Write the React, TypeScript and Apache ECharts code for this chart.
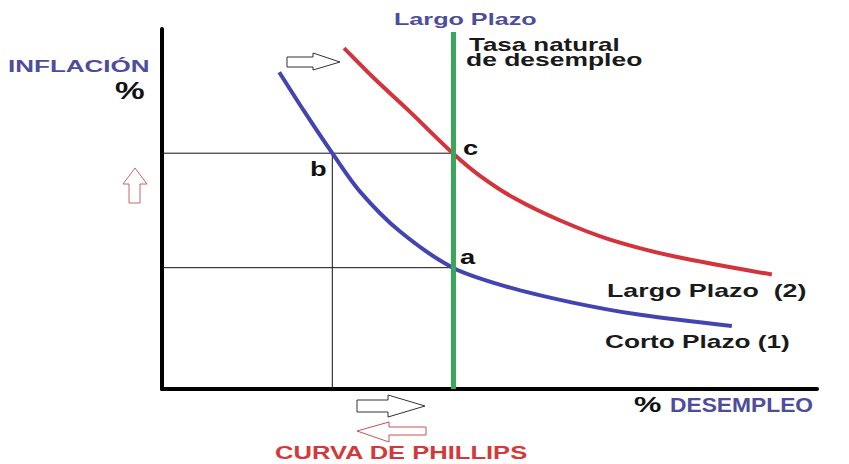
import React, { useEffect, useRef } from "react";
import * as echarts from "echarts";

// % desempleo (x) and % inflación (y), arbitrary units 0..10
const naturalRate = 4.45;
const levelA = 3.37;
const levelC = 6.55;
const unemploymentB = 2.6;

const shortRunX = [1.79, 2.18, 2.6, 3.02, 3.63, 4.44, 5.27, 6.27, 7.3, 8.7];
const shortRunY = [8.8, 7.69, 6.55, 5.49, 4.38, 3.37, 2.84, 2.4, 2.06, 1.75];

const longRunX = [2.78, 3.25, 3.79, 4.44, 4.85, 5.39, 6.08, 6.84, 7.83, 9.31];
const longRunY = [9.47, 8.61, 7.69, 6.55, 5.93, 5.29, 4.68, 4.15, 3.68, 3.18];

const BLUE_TEXT = "#4d4d9c";
const FONT = '"Liberation Sans", Arial, sans-serif';

function txt(text: string, x: number, y: number, size: number, sx: number, fill: string, align = "left") {
  return {
    type: "text",
    x,
    y,
    scaleX: sx,
    scaleY: 1,
    silent: true,
    style: {
      text,
      fill,
      font: `bold ${size}px ${FONT}`,
      textAlign: align,
      textVerticalAlign: "middle",
    },
  };
}

function arrow(points: number[][], stroke: string) {
  return {
    type: "polygon",
    silent: true,
    shape: { points },
    style: { fill: "#ffffff", stroke, lineWidth: 1 },
  };
}

export default function App() {
  const ref = useRef<HTMLDivElement>(null);
  useEffect(() => {
    if (!ref.current) return;
    const chart = echarts.init(ref.current, undefined, { renderer: "svg" });
    const pairs = (xs: number[], ys: number[]) => xs.map((x, i) => [x, ys[i]]);
    const guide = (data: number[][]) => ({
      type: "line",
      data,
      showSymbol: false,
      silent: true,
      lineStyle: { color: "#111", width: 1 },
      z: 2,
    });
    chart.setOption({
      animation: false,
      backgroundColor: "#ffffff",
      grid: { left: 162, right: 32, top: 29, bottom: 75 },
      xAxis: {
        type: "value",
        min: 0,
        max: 10,
        axisLine: { show: true, lineStyle: { color: "#000", width: 4 } },
        axisTick: { show: false },
        axisLabel: { show: false },
        splitLine: { show: false },
      },
      yAxis: {
        type: "value",
        min: 0,
        max: 10,
        axisLine: { show: true, lineStyle: { color: "#000", width: 4 } },
        axisTick: { show: false },
        axisLabel: { show: false },
        splitLine: { show: false },
      },
      series: [
        guide([[0, levelC], [naturalRate, levelC]]),
        guide([[0, levelA], [naturalRate, levelA]]),
        guide([[unemploymentB, levelC], [unemploymentB, 0]]),
        {
          type: "line",
          name: "Corto Plazo (1)",
          data: pairs(shortRunX, shortRunY),
          smooth: 0.3,
          showSymbol: false,
          silent: true,
          lineStyle: { color: "#4444b0", width: 4 },
          z: 3,
        },
        {
          type: "line",
          name: "Largo Plazo (2)",
          data: pairs(longRunX, longRunY),
          smooth: 0.3,
          showSymbol: false,
          silent: true,
          lineStyle: { color: "#d3343c", width: 4 },
          z: 3,
        },
        {
          type: "line",
          name: "Tasa natural",
          data: [[naturalRate, 0], [naturalRate, 9.92]],
          showSymbol: false,
          silent: true,
          lineStyle: { color: "#3aa65a", width: 5 },
          z: 4,
        },
      ],
      graphic: [
        txt("INFLACIÓN", 8, 66, 17, 1.53, BLUE_TEXT),
        txt("%", 115, 91, 23, 1.45, "#111"),
        txt("Largo Plazo", 394, 19, 17, 1.48, BLUE_TEXT),
        txt("Tasa natural", 469, 44.5, 18, 1.44, "#1a1a1a"),
        txt("de desempleo", 466, 60.5, 18, 1.47, "#1a1a1a"),
        txt("c", 463, 148, 21, 1.3, "#111"),
        txt("b", 310, 169, 21, 1.3, "#111"),
        txt("a", 460, 257, 21, 1.3, "#111"),
        txt("Largo Plazo  (2)", 607, 290, 19, 1.41, "#1a1a1a"),
        txt("Corto Plazo (1)", 605, 341, 19, 1.38, "#1a1a1a"),
        txt("%", 634, 405, 22, 1.4, "#111"),
        txt("DESEMPLEO", 670, 405, 20, 1.14, BLUE_TEXT),
        txt("CURVA DE PHILLIPS", 275, 453, 18, 1.42, "#d23a3a"),
        arrow([[287, 57], [313, 57], [313, 53], [340, 62], [313, 70], [313, 67], [287, 67]], "#333"),
        arrow([[357, 400], [388, 400], [388, 395], [425, 406], [388, 417], [388, 412], [357, 412]], "#333"),
        arrow([[357, 431], [389, 422], [389, 427], [426, 427], [426, 435], [389, 435], [389, 442]], "#c85050"),
        arrow([[135, 168], [147, 184], [140, 184], [140, 203], [129, 203], [129, 184], [123, 184]], "#c86464"),
      ],
    });
    return () => chart.dispose();
  }, []);
  return (
    <div
      ref={ref}
      style={{ position: "fixed", left: 0, top: 0, width: 849, height: 464, background: "#fff" }}
    />
  );
}
